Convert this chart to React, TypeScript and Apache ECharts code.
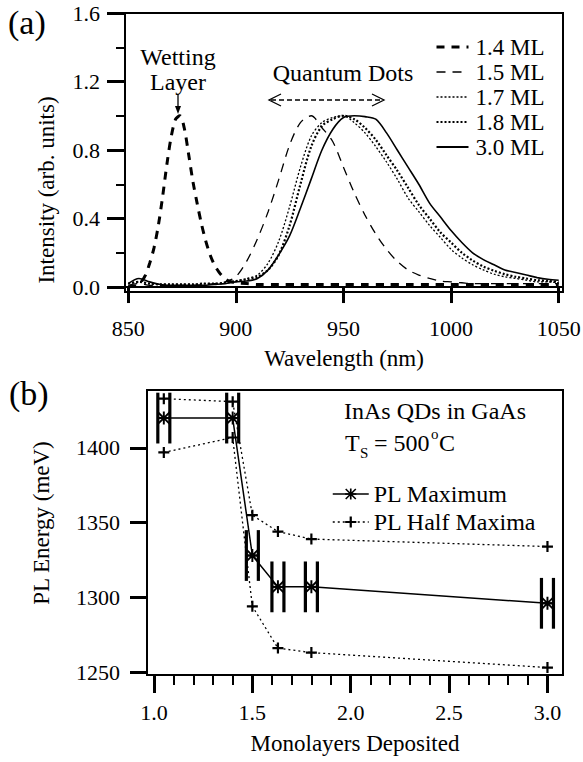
import React, { useEffect, useRef } from 'react';
import * as echarts from 'echarts';

const FONT = '"Liberation Serif", "Times New Roman", serif';

// ---------- Panel (a): PL spectra ----------
const wavelengths = [850, 855, 860, 865, 870, 875, 880, 885, 890, 895, 900, 905, 910, 915, 920, 925, 930, 935, 940, 945, 950, 955, 960, 965, 970, 975, 980, 985, 990, 995, 1000, 1005, 1010, 1015, 1020, 1025, 1030, 1035, 1040, 1045, 1050];
const int15 = [0.01, 0.02, 0.01, 0.01, 0.01, 0.01, 0.01, 0.015, 0.02, 0.03, 0.06, 0.15, 0.28, 0.44, 0.63, 0.83, 0.96, 1.0, 0.93, 0.85, 0.70, 0.55, 0.42, 0.31, 0.22, 0.15, 0.10, 0.07, 0.05, 0.035, 0.03, 0.025, 0.02, 0.02, 0.02, 0.02, 0.02, 0.02, 0.02, 0.02, 0.02];
const int17 = [0.02, 0.03, 0.02, 0.015, 0.015, 0.015, 0.015, 0.02, 0.02, 0.025, 0.035, 0.05, 0.07, 0.14, 0.27, 0.47, 0.70, 0.88, 0.96, 0.99, 1.0, 0.96, 0.90, 0.82, 0.73, 0.63, 0.52, 0.44, 0.36, 0.29, 0.22, 0.17, 0.13, 0.10, 0.075, 0.06, 0.05, 0.04, 0.03, 0.03, 0.025];
const int18 = [0.02, 0.03, 0.02, 0.015, 0.015, 0.015, 0.015, 0.02, 0.02, 0.025, 0.035, 0.045, 0.06, 0.10, 0.19, 0.36, 0.60, 0.82, 0.94, 0.98, 1.0, 0.98, 0.93, 0.86, 0.77, 0.68, 0.58, 0.48, 0.40, 0.32, 0.26, 0.20, 0.155, 0.12, 0.095, 0.075, 0.06, 0.05, 0.04, 0.035, 0.03];
const int30 = [0.02, 0.05, 0.03, 0.015, 0.01, 0.01, 0.01, 0.01, 0.015, 0.02, 0.03, 0.035, 0.05, 0.10, 0.19, 0.30, 0.46, 0.63, 0.80, 0.92, 0.99, 1.0, 0.995, 0.98, 0.90, 0.80, 0.70, 0.60, 0.49, 0.41, 0.33, 0.26, 0.20, 0.16, 0.13, 0.10, 0.085, 0.07, 0.055, 0.045, 0.04];
const wl14 = [850, 852, 854, 856, 858, 860, 862, 864, 866, 868, 870, 872, 874, 876, 878, 880, 882, 884, 886, 888, 890, 892, 894, 896, 898, 900, 905, 910, 920, 930, 940, 950, 960, 970, 980, 990, 1000, 1010, 1020, 1030, 1040, 1050];
const int14 = [0.0, 0.005, 0.01, 0.03, 0.07, 0.14, 0.23, 0.36, 0.53, 0.72, 0.88, 0.98, 1.0, 0.93, 0.78, 0.62, 0.49, 0.37, 0.27, 0.19, 0.13, 0.09, 0.06, 0.04, 0.03, 0.025, 0.02, 0.015, 0.015, 0.015, 0.015, 0.015, 0.015, 0.015, 0.015, 0.015, 0.015, 0.015, 0.015, 0.015, 0.015, 0.015];

const wlTicks = [850, 900, 950, 1000, 1050];
const intTicks = [0, 0.4, 0.8, 1.2, 1.6];
const intMinorTicks = [0.2, 0.6, 1.0, 1.4];

// ---------- Panel (b): PL energies ----------
const monolayers = [1.05, 1.4, 1.5, 1.63, 1.8, 3.0];
const plMax = [1420, 1420, 1328, 1307, 1307, 1296];
const plMaxErr = [17, 17, 17, 17, 17, 17];
const halfMaxHigh = [1433, 1431, 1355, 1344, 1339, 1334];
const halfMaxLow = [1397, 1407, 1294, 1266, 1263, 1253];

const mlTicks = [1.0, 1.5, 2.0, 2.5, 3.0];
const mlMinorTicks = [1.1, 1.2, 1.3, 1.4, 1.6, 1.7, 1.8, 1.9, 2.1, 2.2, 2.3, 2.4, 2.6, 2.7, 2.8, 2.9];
const energyTicks = [1250, 1300, 1350, 1400];

const zip = (xs: number[], ys: number[]) => xs.map((x, i) => [x, ys[i]]);

const PLUS = 'path://M4,0 L6,0 L6,4 L10,4 L10,6 L6,6 L6,10 L4,10 L4,6 L0,6 L0,4 L4,4 Z';
const STAR =
  'path://M8.5,0 L11.5,0 L11.5,20 L8.5,20 Z M0,8.5 L20,8.5 L20,11.5 L0,11.5 Z M0,2 L2,0 L20,18 L18,20 Z M18,0 L20,2 L2,20 L0,18 Z';

const txt = (t: string, x: number, y: number, size: number, align = 'left', extra: any = {}) => ({
  type: 'text',
  x,
  y,
  silent: true,
  ...extra,
  style: {
    text: t,
    fill: '#000',
    fontSize: size,
    fontFamily: FONT,
    align,
    verticalAlign: 'middle',
    textAlign: align,
    textVerticalAlign: 'middle',
  },
});

function buildOption() {
  const black = '#000';
  const tickLabel = { color: black, fontSize: 22, fontFamily: FONT };
  const plain = (v: number) => String(v);
  const noSymbol = { opacity: 0 };
  return {
    animation: false,
    backgroundColor: '#fff',
    grid: [
      { left: 125, top: 13, width: 438, height: 279, show: true, borderColor: black, borderWidth: 2, backgroundColor: 'transparent', outerBoundsMode: 'none' },
      { left: 147, top: 390, width: 416, height: 285, show: true, borderColor: black, borderWidth: 2, backgroundColor: 'transparent', outerBoundsMode: 'none' },
    ],
    xAxis: [
      {
        type: 'value', gridIndex: 0, min: 848.5, max: 1052,
        axisLine: { show: true, lineStyle: { color: black, width: 2 } },
        axisTick: { show: true, inside: false, length: 16, lineStyle: { color: black, width: 3 }, customValues: wlTicks },
        axisLabel: { ...tickLabel, margin: 25, customValues: wlTicks, formatter: plain },
        splitLine: { show: false },
      },
      {
        type: 'value', gridIndex: 1, min: 0.9645, max: 3.079,
        axisLine: { show: true, lineStyle: { color: black, width: 2 } },
        axisTick: { show: true, inside: false, length: 18, lineStyle: { color: black, width: 3 }, customValues: mlTicks },
        axisLabel: { ...tickLabel, margin: 26, customValues: mlTicks, formatter: (v: number) => v.toFixed(1) },
        splitLine: { show: false },
      },
      {
        type: 'value', gridIndex: 1, min: 0.9645, max: 3.079, position: 'bottom', offset: 0,
        axisLine: { show: false },
        axisTick: { show: true, inside: false, length: 10, lineStyle: { color: black, width: 2 }, customValues: mlMinorTicks },
        axisLabel: { show: false },
        splitLine: { show: false },
      },
    ],
    yAxis: [
      {
        type: 'value', gridIndex: 0, min: -0.029, max: 1.6, position: 'left', offset: 0,
        axisLine: { show: true, lineStyle: { color: black, width: 2 } },
        axisTick: { show: true, inside: false, length: 18, lineStyle: { color: black, width: 3 }, customValues: intTicks },
        axisLabel: { ...tickLabel, margin: 25, customValues: intTicks, formatter: (v: number) => v.toFixed(1) },
        splitLine: { show: false },
      },
      {
        type: 'value', gridIndex: 0, min: -0.029, max: 1.6, position: 'left', offset: 0,
        axisLine: { show: false },
        axisTick: { show: true, inside: false, length: 9, lineStyle: { color: black, width: 2 }, customValues: intMinorTicks },
        axisLabel: { show: false },
        splitLine: { show: false },
      },
      {
        type: 'value', gridIndex: 1, min: 1248, max: 1438.8, position: 'left', offset: 0,
        axisLine: { show: true, lineStyle: { color: black, width: 2 } },
        axisTick: { show: true, inside: false, length: 17, lineStyle: { color: black, width: 3 }, customValues: energyTicks },
        axisLabel: { ...tickLabel, margin: 27, customValues: energyTicks, formatter: plain },
        splitLine: { show: false },
      },
    ],
    legend: [
      {
        orient: 'vertical', left: 430, top: 30, itemWidth: 32, itemHeight: 14, itemGap: 1,
        selectedMode: false,
        textStyle: { color: black, fontSize: 23, fontFamily: FONT, lineHeight: 24, padding: [0, 0, 0, 2] },
        data: [
          { name: '1.4 ML', lineStyle: { width: 3 }, itemStyle: noSymbol },
          { name: '1.5 ML', lineStyle: { width: 1.5 }, itemStyle: noSymbol },
          { name: '1.7 ML', lineStyle: { width: 1.3 }, itemStyle: noSymbol },
          { name: '1.8 ML', lineStyle: { width: 2.2 }, itemStyle: noSymbol },
          { name: '3.0 ML', lineStyle: { width: 2 }, itemStyle: noSymbol },
        ],
      },
      {
        orient: 'vertical', left: 327, top: 477, itemWidth: 36, itemHeight: 14, itemGap: 4,
        selectedMode: false,
        textStyle: { color: black, fontSize: 24, fontFamily: FONT, lineHeight: 24, padding: [0, 0, 0, 0] },
        data: [
          { name: 'PL Maximum', lineStyle: { width: 1.5 } },
          { name: 'PL Half Maxima', lineStyle: { width: 1.3 } },
        ],
      },
    ],
    series: [
      {
        name: '1.4 ML', type: 'line', xAxisIndex: 0, yAxisIndex: 0, data: zip(wl14, int14),
        symbol: 'none', smooth: 0.3, lineStyle: { color: black, width: 3, type: [8, 7] }, itemStyle: { color: black },
      },
      {
        name: '1.5 ML', type: 'line', xAxisIndex: 0, yAxisIndex: 0, data: zip(wavelengths, int15),
        symbol: 'none', smooth: 0.3, lineStyle: { color: black, width: 1.3, type: [9, 7] }, itemStyle: { color: black },
      },
      {
        name: '1.7 ML', type: 'line', xAxisIndex: 0, yAxisIndex: 0, data: zip(wavelengths, int17),
        symbol: 'none', smooth: 0.3, lineStyle: { color: black, width: 1.3, type: [2, 2] }, itemStyle: { color: black },
      },
      {
        name: '1.8 ML', type: 'line', xAxisIndex: 0, yAxisIndex: 0, data: zip(wavelengths, int18),
        symbol: 'none', smooth: 0.3, lineStyle: { color: black, width: 2.2, type: [2, 2] }, itemStyle: { color: black },
      },
      {
        name: '3.0 ML', type: 'line', xAxisIndex: 0, yAxisIndex: 0, data: zip(wavelengths, int30),
        symbol: 'none', smooth: 0.3, lineStyle: { color: black, width: 1.6 }, itemStyle: { color: black },
      },
      {
        name: 'errorbars', type: 'custom', xAxisIndex: 1, yAxisIndex: 2,
        data: monolayers.map((m, i) => [m, plMax[i], plMaxErr[i]]),
        encode: { x: 0, y: 1 },
        renderItem: (params: any, api: any) => {
          const x = api.value(0);
          const y = api.value(1);
          const e = api.value(2);
          const top = api.coord([x, y + e]);
          const bot = api.coord([x, y - e]);
          const cs = params.coordSys;
          const yTop = Math.max(top[1], cs.y + 1);
          const dx = 6;
          const st = { stroke: '#000', lineWidth: 3.2 };
          return {
            type: 'group',
            children: [
              { type: 'line', shape: { x1: top[0] - dx, y1: yTop, x2: top[0] - dx, y2: bot[1] }, style: st },
              { type: 'line', shape: { x1: top[0] + dx, y1: yTop, x2: top[0] + dx, y2: bot[1] }, style: st },
              { type: 'line', shape: { x1: top[0] - dx, y1: (top[1] + bot[1]) / 2, x2: top[0] + dx, y2: (top[1] + bot[1]) / 2 }, style: { stroke: '#000', lineWidth: 2 } },
            ],
          };
        },
        z: 2,
      },
      {
        name: 'PL Maximum', type: 'line', xAxisIndex: 1, yAxisIndex: 2, data: zip(monolayers, plMax),
        symbol: STAR, symbolSize: 13, showSymbol: true,
        lineStyle: { color: black, width: 1.5 }, itemStyle: { color: black }, z: 3,
      },
      {
        name: 'PL Half Maxima', type: 'line', xAxisIndex: 1, yAxisIndex: 2, data: zip(monolayers, halfMaxHigh),
        symbol: PLUS, symbolSize: 11, showSymbol: true,
        lineStyle: { color: black, width: 1.3, type: [2, 3] }, itemStyle: { color: black }, z: 3,
      },
      {
        name: 'PL Half Maxima', type: 'line', xAxisIndex: 1, yAxisIndex: 2, data: zip(monolayers, halfMaxLow),
        symbol: PLUS, symbolSize: 11, showSymbol: true,
        lineStyle: { color: black, width: 1.3, type: [2, 3] }, itemStyle: { color: black }, z: 3,
      },
    ],
    graphic: [
      txt('(a)', 8, 22, 34),
      txt('(b)', 9, 393, 34),
      txt('Intensity (arb. units)', 46, 190, 23, 'center', { rotation: Math.PI / 2 }),
      txt('Wavelength (nm)', 344, 358, 23, 'center'),
      txt('PL Energy (meV)', 41, 523, 23, 'center', { rotation: Math.PI / 2 }),
      txt('Monolayers Deposited', 355, 743, 23, 'center'),
      txt('Wetting', 178, 57, 24, 'center'),
      txt('Layer', 178, 82, 24, 'center'),
      { type: 'line', silent: true, shape: { x1: 178, y1: 94, x2: 178, y2: 108 }, style: { stroke: '#000', lineWidth: 1.3 } },
      { type: 'polygon', silent: true, shape: { points: [[175, 106], [181, 106], [178, 114]] }, style: { fill: '#000' } },
      txt('Quantum Dots', 343, 73, 24, 'center'),
      { type: 'line', silent: true, shape: { x1: 271, y1: 100, x2: 382, y2: 100 }, style: { stroke: '#000', lineWidth: 1.5, lineDash: [5, 3] } },
      { type: 'polyline', silent: true, shape: { points: [[281, 94], [269, 100], [281, 106]] }, style: { stroke: '#000', lineWidth: 1.3, fill: 'none' } },
      { type: 'polyline', silent: true, shape: { points: [[372, 94], [384, 100], [372, 106]] }, style: { stroke: '#000', lineWidth: 1.3, fill: 'none' } },
      txt('InAs QDs in GaAs', 344, 411, 24),
      txt('T', 345, 443, 24),
      txt('S', 360, 453, 15),
      txt('= 500', 374, 443, 24),
      txt('o', 431, 434, 15),
      txt('C', 439, 443, 24),
    ],
  };
}

export default function App() {
  const ref = useRef<HTMLDivElement>(null);
  useEffect(() => {
    if (!ref.current) return;
    const chart = echarts.init(ref.current, null, { renderer: 'svg' });
    chart.setOption(buildOption() as any);
    return () => chart.dispose();
  }, []);
  return (
    <div
      ref={ref}
      style={{ position: 'absolute', left: 0, top: 0, width: 583, height: 762, background: '#fff' }}
    />
  );
}
